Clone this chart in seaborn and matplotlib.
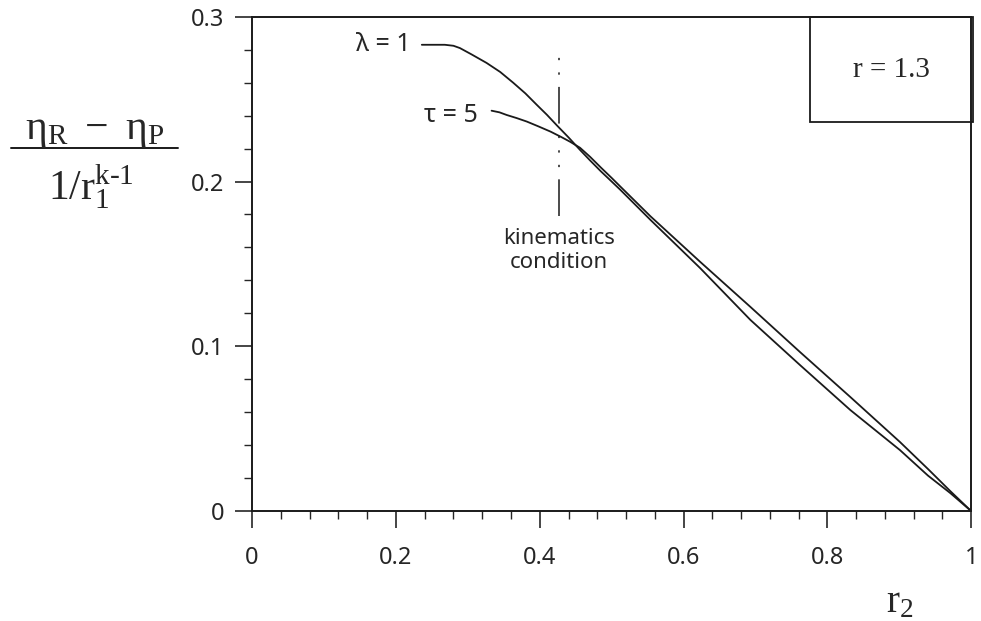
import numpy as np
import pandas as pd
import matplotlib
matplotlib.use('Agg')
import matplotlib.pyplot as plt
import matplotlib.ticker as mticker
from matplotlib.patches import Rectangle
from matplotlib.lines import Line2D
import seaborn as sns

# curve data
lam_x = [0.236, 0.268, 0.280, 0.289, 0.305, 0.326, 0.345, 0.363, 0.380, 0.396, 0.410,
         0.424, 0.440, 0.456, 0.470, 0.485, 0.500, 0.512,
         0.554, 0.623, 0.693, 0.762, 0.832, 0.901, 0.940, 0.971, 1.0]
lam_y = [0.283, 0.283, 0.2824, 0.281, 0.2772, 0.272, 0.2665, 0.260, 0.2535, 0.2465, 0.2405,
         0.234, 0.2268, 0.2192, 0.2128, 0.2062, 0.2000, 0.1950,
         0.1767, 0.1475, 0.1160, 0.0886, 0.0613, 0.0370, 0.0215, 0.0109, 0.0]

tau_x = [0.333, 0.344, 0.354, 0.368, 0.382, 0.398, 0.415, 0.430, 0.442, 0.456, 0.470,
         0.485, 0.500, 0.512,
         0.554, 0.623, 0.693, 0.762, 0.832, 0.901, 0.940, 0.971, 1.0]
tau_y = [0.243, 0.2420, 0.2404, 0.2385, 0.2364, 0.2335, 0.2303, 0.2270, 0.2242, 0.2205, 0.2150,
         0.2085, 0.2022, 0.1970,
         0.1789, 0.1513, 0.1239, 0.0965, 0.0692, 0.0419, 0.0255, 0.0121, 0.0]

kin_x = [0.427, 0.427]
kin_y = [0.179, 0.279]

x_ticks = [0, 0.2, 0.4, 0.6, 0.8, 1.0]
y_ticks = [0, 0.1, 0.2, 0.3]

sns.set_style('ticks')
plt.rcParams['font.family'] = ['Noto Sans', 'DejaVu Sans']
plt.rcParams['mathtext.fontset'] = 'custom'
plt.rcParams['mathtext.rm'] = 'Liberation Serif'
plt.rcParams['mathtext.it'] = 'Liberation Serif'
plt.rcParams['mathtext.bf'] = 'Liberation Serif:bold'

ink = '#1a1a1a'
fig = plt.figure(figsize=(9.81, 6.21), dpi=100)
ax = fig.add_axes([0.257, 0.177, 0.733, 0.796])

df_lam = pd.DataFrame({'r2': lam_x, 'val': lam_y})
df_tau = pd.DataFrame({'r2': tau_x, 'val': tau_y})
sns.lineplot(data=df_lam, x='r2', y='val', ax=ax, color=ink, lw=1.3, sort=False)
sns.lineplot(data=df_tau, x='r2', y='val', ax=ax, color=ink, lw=1.3, sort=False)

# kinematics condition marker (dash-dot-dot-dot)
ax.plot(kin_x, kin_y, color=ink, lw=1.1,
        linestyle=(0, (24, 8, 1.5, 8, 1.5, 8, 1.5, 8)))

ax.set_xlim(0, 1)
ax.set_ylim(0, 0.3)
ax.xaxis.set_major_locator(mticker.FixedLocator(x_ticks))
ax.yaxis.set_major_locator(mticker.FixedLocator(y_ticks))
ax.xaxis.set_minor_locator(mticker.MultipleLocator(0.04))
ax.yaxis.set_minor_locator(mticker.MultipleLocator(0.02))
fmt = mticker.FuncFormatter(lambda v, p: '0' if v == 0 else ('1' if v == 1 else f'{v:.1f}'))
ax.xaxis.set_major_formatter(fmt)
ax.yaxis.set_major_formatter(fmt)
ax.tick_params(which='major', length=12, width=1.2, direction='out', labelsize=17, pad=8)
ax.tick_params(axis='x', which='major', pad=13)
ax.tick_params(which='minor', length=6, width=1.0, direction='out')
ax.set_xlabel('')
ax.set_ylabel('')
for s in ax.spines.values():
    s.set_linewidth(1.4)
    s.set_color(ink)

# curve labels
ax.text(0.220, 0.283, 'λ = 1', ha='right', va='center', fontsize=18)
ax.text(0.314, 0.240, 'τ = 5', ha='right', va='center', fontsize=18)
ax.text(0.427, 0.172, 'kinematics\ncondition', ha='center', va='top',
        fontsize=16, linespacing=1.2)

# r = 1.3 box
ax.add_patch(Rectangle((0.776, 0.787), 0.226, 0.213, transform=ax.transAxes,
                       fill=False, ec=ink, lw=1.3, clip_on=False))
ax.text(0.889, 0.893, 'r = 1.3', transform=ax.transAxes, ha='center', va='center',
        fontsize=21, family='Liberation Serif')

# axis labels
fig.text(0.917, 0.030, r'$\mathrm{r_2}$', ha='center', va='center', fontsize=28)
fig.text(0.097, 0.793, r'$\mathrm{\eta_R\ -\ \eta_P}$', ha='center', va='center', fontsize=30)
fig.add_artist(Line2D([0.011, 0.181], [0.762, 0.762], transform=fig.transFigure,
                      color=ink, lw=1.4))
fig.text(0.093, 0.700, r'$\mathrm{1/r_1^{k\text{-}1}}$', ha='center', va='center', fontsize=30)

fig.savefig('out.png', dpi=100)
